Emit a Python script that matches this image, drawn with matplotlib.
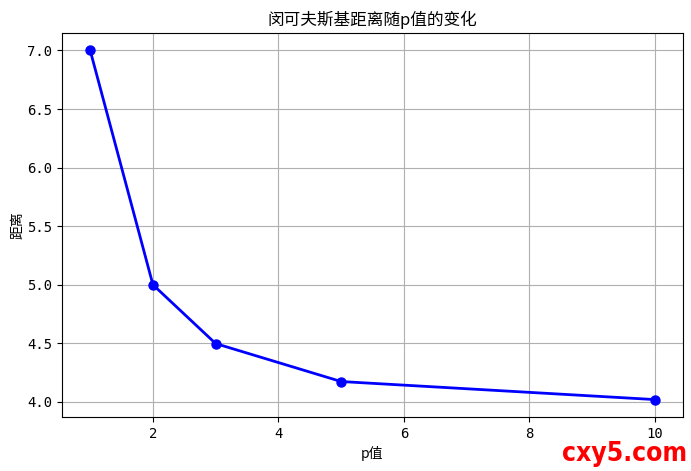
import matplotlib
matplotlib.use("Agg")
import matplotlib.pyplot as plt

p_values = [1, 2, 3, 5, 10]
distances = [7.0, 5.0, 4.498, 4.174, 4.020]

cjk = ["Noto Sans CJK SC", "DejaVu Sans"]
mono = "DejaVu Sans Mono"

fig = plt.figure(figsize=(6.91, 4.71), dpi=100)
ax = fig.add_axes([0.0897, 0.1146, 0.8987, 0.8153])

ax.plot(p_values, distances, color="blue", marker="o", linewidth=2, markersize=6.5)
ax.grid(True, color="#b0b0b0", linewidth=0.8)

ax.set_title("闵可夫斯基距离随p值的变化", family=cjk, fontsize=12)
ax.set_xlabel("p值", family=cjk, fontsize=10)
ax.set_ylabel("距离", family=cjk, fontsize=10, labelpad=2)

for lab in ax.get_xticklabels() + ax.get_yticklabels():
    lab.set_family(mono)
    lab.set_fontsize(10)

# watermark
fig.text(0.994, 0.008, "cxy5.com", color="red", fontsize=19, fontweight="bold",
         family="DejaVu Sans", fontstretch="condensed", ha="right", va="bottom")

fig.savefig("out.png", dpi=100)
